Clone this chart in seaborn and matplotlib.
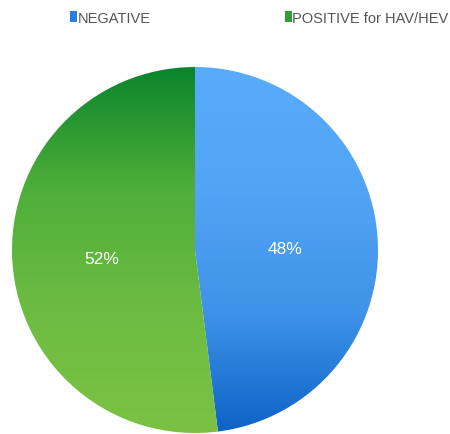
import numpy as np
import matplotlib.pyplot as plt
import seaborn as sns
from matplotlib.colors import LinearSegmentedColormap
from matplotlib.patches import Patch

# data
labels = ["NEGATIVE", "POSITIVE for HAV/HEV"]
shares = [48, 52]
pct_text = ["48%", "52%"]

# gradient colours, top -> bottom
blue_stops = ["#58acfa", "#52a4f5", "#3f93e8", "#0c63c6"]
green_stops = ["#0a852b", "#4fae3a", "#6dbc41", "#7bc244"]
legend_colors = ["#2a7fe0", "#2f9e35"]

sns.set_theme(style="white")
plt.rcParams["font.family"] = ["Liberation Sans", "DejaVu Sans"]

fig = plt.figure(figsize=(4.5, 4.35), dpi=100)
ax = fig.add_axes([0, 0, 1, 1])

cx, cy, r = 195, 184, 183
wedges, _ = ax.pie(shares, center=(cx, cy), radius=r, startangle=90,
                   counterclock=False, frame=True,
                   wedgeprops=dict(linewidth=0, facecolor="none"))

grad = np.linspace(0, 1, 256).reshape(-1, 1)
for w, stops in zip(wedges, [blue_stops, green_stops]):
    cmap = LinearSegmentedColormap.from_list("g", stops)
    im = ax.imshow(grad, cmap=cmap, aspect="auto", origin="upper",
                   extent=(cx - r, cx + r, cy - r, cy + r), zorder=1)
    im.set_clip_path(w)

ax.set_xlim(0, 450)
ax.set_ylim(0, 435)
ax.set_aspect("equal")
ax.axis("off")

# percentage labels
ax.text(285, 435 - 250, pct_text[0], color="white", fontsize=12.5,
        ha="center", va="center", zorder=3)
ax.text(102, 435 - 259, pct_text[1], color="white", fontsize=12.5,
        ha="center", va="center", zorder=3)

handles = [Patch(facecolor=c, edgecolor="none") for c in legend_colors]
fig.legend(handles, labels, ncol=2, loc="upper left",
           bbox_to_anchor=(70 / 450, 1 - 12 / 435), frameon=False,
           fontsize=10.5, handlelength=0.47, handleheight=0.78,
           handletextpad=0.05, columnspacing=9.2, labelcolor="#555555",
           borderaxespad=0, borderpad=0)

fig.savefig("out.png", dpi=100)
